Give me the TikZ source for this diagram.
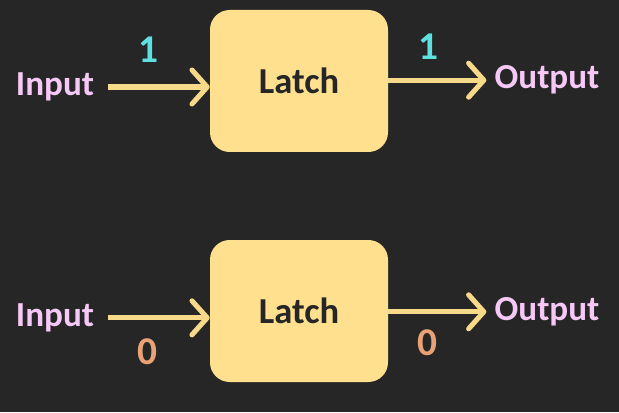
\documentclass[tikz,border=0pt]{standalone}
\usepackage{fontspec}
\setmainfont{Carlito}
\usepackage{xcolor}
\usetikzlibrary{arrows.meta,calc,positioning}
\definecolor{bgdark}{HTML}{262626}
\definecolor{latchfill}{HTML}{FFE08E}
\definecolor{wire}{HTML}{F7D98A}
\definecolor{sig}{HTML}{F5C8F5}
\definecolor{one}{HTML}{5EE0E0}
\definecolor{zero}{HTML}{E8A275}
\tikzset{latch/.style={fill=latchfill,rounded corners=14pt,minimum width=4.45cm,minimum height=3.55cm,
    font=\fontsize{26}{30}\selectfont\bfseries,text=black!85},
  port/.style={inner sep=0pt,font=\fontsize{25}{30}\selectfont\bfseries,text=sig},
  bit/.style={inner sep=0pt,font=\fontsize{28}{32}\selectfont\bfseries},
  arr/.style={wire,line width=3.6pt,-{Straight Barb[length=3.8mm,width=8.5mm,line cap=round,line join=round]}}}

\begin{document}
\begin{tikzpicture}
\fill[bgdark] (0,0) rectangle (15.475,10.3);
\useasboundingbox (0,0) rectangle (15.475,10.3);
% latch holding 1
\begin{scope}[shift={(7.475,8.275)}]
 \node[latch] (latchA) at (0,0) {Latch};
 \node[port] (inA) at (-6.1,-0.15) {Input};
 \node[port] (outA) at (6.2,0.02) {Output};
 \draw[arr,shorten <=0.35cm] (inA.east) -- (inA.east -| latchA.west);
 \draw[arr,shorten >=0.2cm] (latchA.east |- outA.west) -- (outA.west);
 \node[bit,text=one] (bitAin) at (-3.775,0.775) {1};
 \node[bit,text=one] (bitAout) at (3.225,0.85) {1};
\end{scope}
% latch holding 0
\begin{scope}[shift={(7.475,2.525)}]
 \node[latch] (latchB) at (0,0) {Latch};
 \node[port] (inB) at (-6.1,-0.17) {Input};
 \node[port] (outB) at (6.2,-0.02) {Output};
 \draw[arr,shorten <=0.35cm] (inB.east) -- (inB.east -| latchB.west);
 \draw[arr,shorten >=0.2cm] (latchB.east |- outB.west) -- (outB.west);
 \node[bit,text=zero] (bitBin) at (-3.8,-1.025) {0};
 \node[bit,text=zero] (bitBout) at (3.2,-0.8) {0};
\end{scope}
\end{tikzpicture}
\end{document}
